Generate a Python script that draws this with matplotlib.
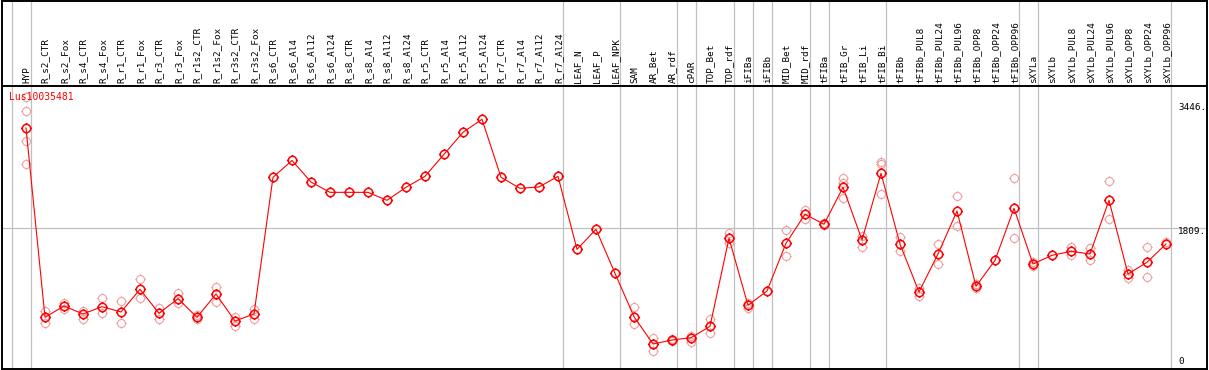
import numpy as np
import matplotlib
matplotlib.use("Agg")
import matplotlib.pyplot as plt
from matplotlib.path import Path

# --- data -------------------------------------------------------------
gene = "Lus10035481"

categories = [
    "HYP", "R_s2_CTR", "R_s2_Fox", "R_s4_CTR", "R_s4_Fox", "R_r1_CTR",
    "R_r1_Fox", "R_r3_CTR", "R_r3_Fox", "R_r1s2_CTR", "R_r1s2_Fox",
    "R_r3s2_CTR", "R_r3s2_Fox", "R_s6_CTR", "R_s6_Al4", "R_s6_Al12",
    "R_s6_Al24", "R_s8_CTR", "R_s8_Al4", "R_s8_Al12", "R_s8_Al24",
    "R_r5_CTR", "R_r5_Al4", "R_r5_Al12", "R_r5_Al24", "R_r7_CTR",
    "R_r7_Al4", "R_r7_Al12", "R_r7_Al24", "LEAF_N", "LEAF_P", "LEAF_NPK",
    "SAM", "AR_Bet", "AR_rdf", "cPAR", "TOP_Bet", "TOP_rdf", "iFIBa",
    "iFIBb", "MID_Bet", "MID_rdf", "tFIBa", "tFIB_Gr", "tFIB_Li", "tFIB_Bi",
    "tFIBb", "tFIBb_PUL8", "tFIBb_PUL24", "tFIBb_PUL96", "tFIBb_OPP8",
    "tFIBb_OPP24", "tFIBb_OPP96", "sXYLa", "sXYLb", "sXYLb_PUL8",
    "sXYLb_PUL24", "sXYLb_PUL96", "sXYLb_OPP8", "sXYLb_OPP24", "sXYLb_OPP96",
]

mean_values = [
    3158, 603, 756, 648, 747, 675, 981, 657, 855, 603, 918, 553, 648,
    2493, 2720, 2429, 2290, 2290, 2290, 2182, 2358, 2506, 2803, 3100, 3276,
    2493, 2344, 2362, 2506, 1521, 1791, 1197,
    612, 243, 297, 328, 481, 1670, 765, 958, 1602, 1994, 1859, 2358, 1647,
    2547, 1591, 945, 1458, 2038, 1022, 1372, 2074, 1323, 1440, 1494, 1458,
    2182, 1188, 1346, 1593,
]

replicates = [
    [3581, 3392, 2983, 2668], [688, 522], [792, 715], [693, 585], [860, 657],
    [823, 522], [1116, 860], [724, 585], [936, 792], [630, 585], [1012, 806],
    [612, 490], [715, 576],
    [], [], [], [], [], [], [], [], [], [], [], [], [], [], [], [],
    [], [], [],
    [738, 509], [324, 153], [310, 285], [355, 274], [580, 387], [1737, 1602],
    [801, 724], [], [1782, 1427], [2052, 1935], [1880, 1845],
    [2479, 2420, 2209], [1705, 1548], [2699, 2670, 2263], [1691, 1494],
    [995, 887], [1593, 1323], [2236, 1831], [1050, 1000], [], [2479, 1670],
    [1350, 1300], [], [1552, 1440], [1539, 1381], [2443, 1926], [1237, 1138],
    [1548, 1147], [1624],
]

# columns after which a group separator is drawn
group_ends = [-1, 0, 28, 31, 34, 35, 37, 38, 39, 41, 42, 45, 52, 53, 60]

axis_labels = ["3446.", "1809.", "0"]
ref_level = 1809

# --- layout (pixels of the 1209x370 picture) ---------------------------
W, H = 1209, 370
x0_px, col_px = 26, 19          # centre of first column, column pitch
zero_px, per_unit = 362, 0.07409  # y pixel of value 0, pixels per unit
L, R, T, B = 1.5, 1207, 0.5, 369


def ax_x(px):
    return (px - L) / (R - L)


def ax_y(py):
    return (B - py) / (B - T)


def ring_marker(tick=1.3):
    circ = Path.unit_circle()
    segs = []
    for dx, dy in [(0, 1), (0, -1), (1, 0), (-1, 0)]:
        segs.append(Path([(dx, dy), (dx * tick, dy * tick)],
                         [Path.MOVETO, Path.LINETO]))
    return Path.make_compound_path(circ, *segs)


marker = ring_marker()
mono = "DejaVu Sans Mono"

fig = plt.figure(figsize=(W / 100, H / 100), dpi=100)
ax = fig.add_axes([L / W, 1 - B / H, (R - L) / W, (B - T) / H])

x = np.arange(len(categories))
ax.set_xlim((L - x0_px) / col_px, (R - x0_px) / col_px)
ax.set_ylim((zero_px - B) / per_unit, (zero_px - T) / per_unit)
ax.set_xticks([])
ax.set_yticks([])
for sp in ax.spines.values():
    sp.set_color("black")
    sp.set_linewidth(1.4)

# grid
grid_c = "#c0c0c0"
for k in group_ends:
    ax.axvline(k + 4.5 / col_px, color=grid_c, lw=0.9, zorder=1)
ax.axhline(ref_level, color=grid_c, lw=0.9, zorder=1)

# header separator
ax.plot([0, 1], [ax_y(85.5)] * 2, transform=ax.transAxes, color="black",
        lw=1.4, zorder=3)

# column labels
for i, name in enumerate(categories):
    ax.text(ax_x(x0_px + col_px * i + 0.5), ax_y(83), name, rotation=90,
            ha="center", va="bottom", fontsize=6.7, family=mono,
            transform=ax.transAxes)

# replicate points
rx = [i for i, reps in enumerate(replicates) for _ in reps]
ry = [v for reps in replicates for v in reps]
ax.plot(rx, ry, linestyle="none", marker=marker, markersize=7.5,
        markerfacecolor="none", markeredgecolor="#f0a0a0",
        markeredgewidth=0.8, zorder=4)

# mean profile
ax.plot(x, mean_values, color="red", lw=0.8, marker=marker, markersize=7.8,
        markerfacecolor="none", markeredgecolor="red", markeredgewidth=1.1,
        zorder=5)

# gene name and value labels
ax.text(ax_x(9), ax_y(97), gene, color="red", fontsize=7, family=mono,
        ha="left", va="center", transform=ax.transAxes, zorder=6)
for lab, py in zip(axis_labels, [107.5, 232, 361]):
    ax.text(ax_x(1178), ax_y(py), lab, fontsize=6.7, family=mono,
            ha="left", va="center", transform=ax.transAxes)

fig.savefig("out.png", dpi=100)
